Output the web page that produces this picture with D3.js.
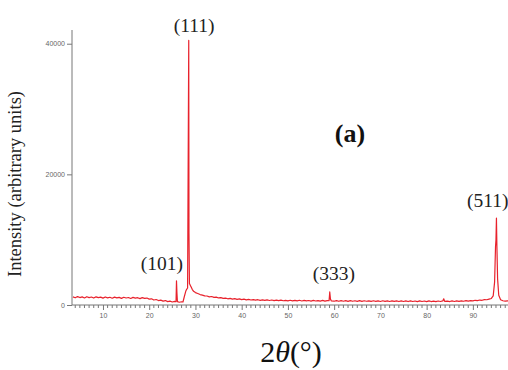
<!DOCTYPE html>
<html>
<head>
  <script src="https://d3js.org/d3.v7.min.js"></script>
  <style>
    body { margin: 0; background: #fff; }
  </style>
</head>
<body>
<svg width="508" height="370"></svg>
<script>
  // diffraction pattern, 2theta (deg) and intensity
  const twoTheta = [
    3.5, 4, 4.5, 5, 5.5, 6, 6.5, 7, 7.5, 8, 8.5, 9, 9.5, 10, 10.5, 11, 11.5, 12, 12.5, 13,
    13.5, 14, 14.5, 15, 15.5, 16, 16.5, 17, 17.5, 18, 18.5, 19, 19.5, 20, 20.5, 21, 21.5, 22,
    22.5, 23, 23.5, 24, 24.5, 25, 25.5, 25.8, 25.9, 26.0, 26.1, 26.5, 27, 27.3, 27.6, 27.9,
    28.1, 28.3, 28.55, 28.6, 28.7, 28.9, 29.1, 29.3, 29.6, 30, 30.5, 31, 31.5, 32, 32.5, 33,
    33.5, 34, 34.5, 35, 35.5, 36, 36.5, 37, 37.5, 38, 38.5, 39, 39.5, 40, 40.5, 41, 41.5, 42,
    42.5, 43, 43.5, 44, 44.5, 45, 45.5, 46, 46.5, 47, 47.5, 48, 48.5, 49, 49.5, 50, 50.5, 51,
    51.5, 52, 52.5, 53, 53.5, 54, 54.5, 55, 55.5, 56, 56.5, 57, 57.5, 58, 58.5, 58.9, 59.05,
    59.2, 59.4, 60, 60.5, 61, 61.5, 62, 62.5, 63, 63.5, 64, 64.5, 65, 65.5, 66, 66.5, 67, 67.5,
    68, 68.5, 69, 69.5, 70, 70.5, 71, 71.5, 72, 72.5, 73, 73.5, 74, 74.5, 75, 75.5, 76, 76.5,
    77, 77.5, 78, 78.5, 79, 79.5, 80, 80.5, 81, 81.5, 82, 82.5, 83, 83.5, 83.7, 83.9, 84.5, 85,
    85.5, 86, 86.5, 87, 87.5, 88, 88.5, 89, 89.5, 90, 90.5, 91, 91.5, 92, 92.5, 93, 93.5, 94,
    94.4, 94.7, 94.9, 95.0, 95.1, 95.2, 95.35, 95.6, 96, 96.5, 97, 97.5, 98
  ];
  const intensity = [
    1250, 1100, 1290, 1140, 1240, 1080, 1270, 1130, 1220, 1060, 1250, 1120, 1200, 1050, 1230, 1100, 1190, 1040, 1210, 1090,
    1170, 1020, 1190, 1070, 1150, 1000, 1170, 1050, 1120, 970, 1130, 1010, 1060, 900, 950, 760, 840, 680,
    740, 600, 680, 520, 600, 460, 560, 500, 3700, 1800, 520, 420, 500, 460, 1300, 2100,
    2400, 2600, 40500, 11000, 3300, 3000, 2700, 2400, 2100, 1900, 1750, 1600, 1520, 1400, 1380, 1250,
    1300, 1170, 1200, 1080, 1130, 1010, 1060, 950, 1020, 900, 970, 860, 930, 820, 900, 790, 860, 770,
    830, 740, 810, 720, 790, 700, 780, 690, 760, 670, 750, 660, 740, 650, 720, 640, 730, 630,
    710, 620, 720, 610, 700, 620, 690, 600, 700, 610, 680, 600, 700, 590, 680, 650, 2000,
    900, 620, 580, 680, 570, 670, 580, 660, 560, 670, 570, 650, 560, 660, 550, 650, 570, 640,
    550, 650, 560, 640, 540, 650, 550, 630, 540, 640, 550, 620, 530, 630, 540, 620, 530, 630,
    540, 610, 520, 620, 530, 610, 520, 620, 530, 600, 520, 610, 530, 620, 950, 560, 600, 530,
    620, 540, 630, 560, 640, 570, 660, 590, 680, 620, 720, 680, 760, 720, 820, 800, 900, 1000,
    1400, 3500, 8900, 10000, 13300, 9000, 4000, 1500, 800, 650, 600, 640, 580
  ];

  const yTicks = [0, 20000, 40000];
  const xTicks = [10, 20, 30, 40, 50, 60, 70, 80, 90];

  // reflection labels: [text, 2theta, intensity at label baseline]
  const peakLabels = [
    ["(111)", 29.7, 41800],
    ["(101)", 22.75, 5350],
    ["(333)", 59.95, 3830],
    ["(511)", 93.2, 15000]
  ];

  const svg = d3.select("svg");
  const data = twoTheta.map((t, i) => ({ t: t, v: intensity[i] }));

  const x = d3.scaleLinear().domain([3.3, 97.6]).range([72, 508]);
  const y = d3.scaleLinear().domain([0, 42100]).range([305, 30]);

  const axisColor = "#777";

  // y axis
  const yAxis = svg.append("g")
    .attr("transform", "translate(72,0)")
    .call(d3.axisLeft(y).tickValues(yTicks).tickSize(5).tickPadding(2).tickFormat(d3.format("d")));
  yAxis.select(".domain").attr("stroke", axisColor).attr("d", "M0," + y.range()[0] + "V" + y.range()[1]);
  yAxis.selectAll(".tick line").attr("stroke", axisColor);
  yAxis.selectAll("text")
    .attr("fill", "#666")
    .style("font-family", "Liberation Sans Narrow, Arial, sans-serif")
    .style("font-size", "7px");

  // x axis minor ticks every degree
  const minor = d3.range(4, 98, 1).filter(d => d % 10 !== 0);
  svg.append("g")
    .attr("transform", "translate(0,305)")
    .selectAll("line")
    .data(minor)
    .enter().append("line")
    .attr("x1", d => x(d)).attr("x2", d => x(d))
    .attr("y1", 0).attr("y2", 3)
    .attr("stroke", axisColor);

  const xAxis = svg.append("g")
    .attr("transform", "translate(0,305)")
    .call(d3.axisBottom(x).tickValues(xTicks).tickSize(5).tickPadding(3).tickFormat(d3.format("d")));
  xAxis.select(".domain").attr("stroke", axisColor).attr("d", "M72,0H508");
  xAxis.selectAll(".tick line").attr("stroke", axisColor);
  xAxis.selectAll("text")
    .attr("fill", "#666")
    .style("font-family", "Liberation Sans Narrow, Arial, sans-serif")
    .style("font-size", "7px");

  // pattern
  const line = d3.line().x(d => x(d.t)).y(d => y(d.v));
  svg.append("path")
    .datum(data)
    .attr("fill", "none")
    .attr("stroke", "#e8222c")
    .attr("stroke-width", 1.2)
    .attr("stroke-linejoin", "round")
    .attr("d", line);

  const serif = "Liberation Serif, Times New Roman, serif";

  svg.append("g")
    .selectAll("text")
    .data(peakLabels)
    .enter().append("text")
    .attr("x", d => x(d[1]))
    .attr("y", d => y(d[2]))
    .attr("text-anchor", "middle")
    .style("font-family", serif)
    .style("font-size", "19.5px")
    .attr("fill", "#222")
    .text(d => d[0]);

  svg.append("text")
    .attr("x", 350).attr("y", 142)
    .attr("text-anchor", "middle")
    .style("font-family", serif)
    .style("font-size", "26px")
    .style("font-weight", "bold")
    .attr("fill", "#111")
    .text("(a)");

  svg.append("text")
    .attr("transform", "translate(21,184) rotate(-90)")
    .attr("text-anchor", "middle")
    .style("font-family", serif)
    .style("font-size", "18.5px")
    .attr("fill", "#222")
    .text("Intensity (arbitrary units)");

  const xl = svg.append("text")
    .attr("x", 291).attr("y", 362)
    .attr("text-anchor", "middle")
    .style("font-family", serif)
    .style("font-size", "30px")
    .attr("fill", "#111");
  xl.append("tspan").text("2");
  xl.append("tspan").style("font-style", "italic").text("θ");
  xl.append("tspan").text("(°)");
</script>
</body>
</html>
